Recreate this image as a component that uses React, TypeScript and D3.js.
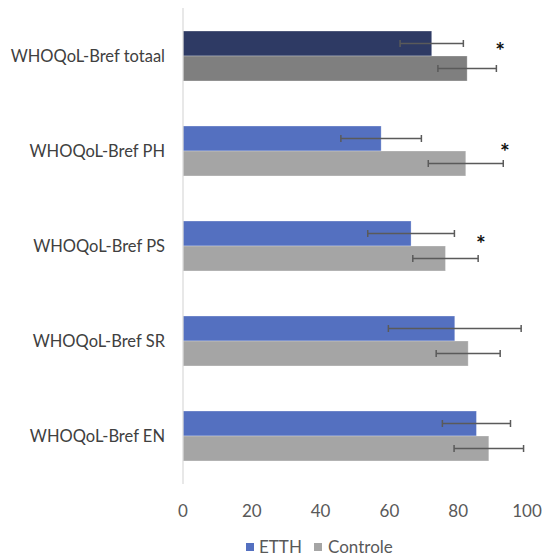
import React from "react";
import * as d3 from "d3";

const categories = ["WHOQoL-Bref totaal", "WHOQoL-Bref PH", "WHOQoL-Bref PS", "WHOQoL-Bref SR", "WHOQoL-Bref EN"];
const etthValues = [72.3, 57.6, 66.3, 79.0, 85.3];
const etthErrors = [9.2, 11.7, 12.6, 19.3, 9.9];
const controleValues = [82.6, 82.2, 76.3, 82.9, 88.9];
const controleErrors = [8.5, 10.9, 9.5, 9.3, 10.1];
const xTicks = [0, 20, 40, 60, 80, 100];
const starCategories = ["WHOQoL-Bref totaal", "WHOQoL-Bref PH", "WHOQoL-Bref PS"];
const starX = [92.2, 93.6, 86.6];
const seriesNames = ["ETTH", "Controle"];

const W = 546;
const H = 558;
const FONT = "Lato, 'Open Sans', sans-serif";

export default function App() {
  const x = d3.scaleLinear().domain([0, 100]).range([183, 527]);
  const y = d3.scaleBand().domain(categories).range([8.5, 483.5]).paddingInner(0.474).paddingOuter(0.237);
  const inner = d3.scaleBand().domain(seriesNames).range([0, y.bandwidth()]);
  const bh = inner.bandwidth();

  const etthColor = (i: number) => (i === 0 ? "#2E3A64" : "#5470C0");
  const ctrlColor = (i: number) => (i === 0 ? "#7F7F7F" : "#A5A5A5");
  const starDy = [-9.3, -3.3, -6.7];

  const errBar = (cx: number, e: number, cy: number, key: string) => (
    <g key={key} stroke="#5A5A5A" strokeWidth={1.5}>
      <line x1={x(cx - e)} x2={x(cx + e)} y1={cy} y2={cy} />
      <line x1={x(cx - e)} x2={x(cx - e)} y1={cy - 3.5} y2={cy + 3.5} />
      <line x1={x(cx + e)} x2={x(cx + e)} y1={cy - 3.5} y2={cy + 3.5} />
    </g>
  );

  return (
    <svg width={W} height={H} style={{ position: "absolute", left: 0, top: 0, background: "#fff" }}>
      {categories.map((c, i) => {
        const y0 = y(c)!;
        const ye = y0 + inner("ETTH")!;
        const yc = y0 + inner("Controle")!;
        return (
          <g key={c}>
            <rect x={x(0)} y={ye} width={x(etthValues[i]) - x(0)} height={bh} fill={etthColor(i)} stroke="#ffffff" strokeOpacity={0.35} strokeWidth={0.8} />
            <rect x={x(0)} y={yc} width={x(controleValues[i]) - x(0)} height={bh} fill={ctrlColor(i)} stroke="#ffffff" strokeOpacity={0.35} strokeWidth={0.8} />
            {errBar(etthValues[i], etthErrors[i], ye + bh / 2, "e" + i)}
            {errBar(controleValues[i], controleErrors[i], yc + bh / 2, "c" + i)}
            <text x={165} y={y0 + y.bandwidth() / 2} dy="0.35em" textAnchor="end" fontFamily={FONT} fontSize={16.5} fill="#404040">{c}</text>
          </g>
        );
      })}
      <line x1={x(0)} x2={x(0)} y1={8} y2={484} stroke="#D9D9D9" strokeWidth={1.2} />
      {starCategories.map((c, i) => (
        <text key={c} x={x(starX[i])} y={y(c)! + y.bandwidth() / 2 + starDy[i]} dy="0.55em" textAnchor="middle" fontFamily={FONT} fontWeight="bold" fontSize={23} fill="#111">*</text>
      ))}
      {xTicks.map((t) => (
        <text key={t} x={x(t)} y={511} dy="0.35em" textAnchor="middle" fontFamily={FONT} fontSize={17} fill="#595959">{t}</text>
      ))}
      <g fontFamily={FONT} fontSize={17} fill="#595959">
        <rect x={246} y={543} width={8} height={8} fill="#5470C0" />
        <text x={259} y={547} dy="0.35em">ETTH</text>
        <rect x={314} y={543} width={8} height={8} fill="#A5A5A5" />
        <text x={328} y={547} dy="0.35em">Controle</text>
      </g>
    </svg>
  );
}
